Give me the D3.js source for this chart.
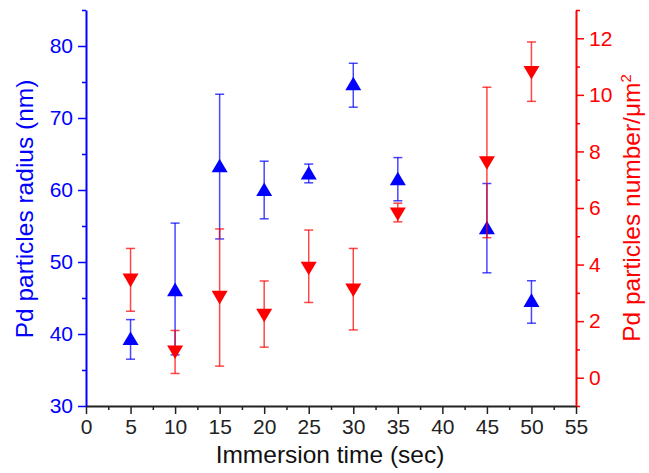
<!DOCTYPE html>
<html><head><meta charset="utf-8">
<script src="https://cdn.jsdelivr.net/npm/d3@7"></script>
<style>body{margin:0;background:#fff}svg{display:block}text{font-family:"Liberation Sans",Arial,sans-serif}</style>
</head><body><svg id="c" width="649" height="473"></svg>
<script>
const times = [5, 10, 15, 20, 25, 30, 35, 45, 50];
const radius = [39.4, 46.2, 63.4, 60.1, 62.4, 74.8, 61.6, 54.8, 44.7];
const radiusHi = [42.0, 55.4, 73.3, 64.0, 63.6, 77.6, 64.5, 60.9, 47.4];
const radiusLo = [36.5, 37.1, 53.2, 56.0, 61.0, 71.5, 58.5, 48.5, 41.5];
const number = [3.44, 0.90, 2.83, 2.20, 3.86, 3.09, 5.78, 7.59, 10.78];
const numberHi = [4.57, 1.67, 5.26, 3.42, 5.22, 4.57, 6.17, 10.27, 11.87];
const numberLo = [2.35, 0.15, 0.41, 1.08, 2.66, 1.69, 5.51, 4.95, 9.77];
const xTicks = [0, 5, 10, 15, 20, 25, 30, 35, 40, 45, 50, 55];
const leftTicks = [30, 40, 50, 60, 70, 80];
const rightTicks = [0, 2, 4, 6, 8, 10, 12];

const BLUE = "#0000ff", RED = "#ff0000";
const svg = d3.select("#c");
const L = 86, R = 576, T = 10, B = 406;
const x = d3.scaleLinear().domain([0, 55]).range([L, R]);
const yL = d3.scaleLinear().domain([30, 85]).range([B, T]);
const yR = d3.scaleLinear().domain([-1, 13]).range([B, T]);

function styleAxis(g, color, fs) {
  g.selectAll("path").attr("stroke", color).attr("stroke-width", 2);
  g.selectAll("line").attr("stroke", color).attr("stroke-width", 1.5);
  g.selectAll("text").attr("fill", color).style("font-size", fs + "px").style("font-family", '"Liberation Sans", Arial, sans-serif');
}
// minor ticks
const xMinor = d3.range(2.5, 55, 5);
svg.append("g").attr("transform", `translate(0,${B})`)
  .call(d3.axisBottom(x).tickValues(xMinor).tickSize(4).tickFormat(""))
  .call(g => { g.select("path").remove(); g.selectAll("line").attr("stroke", "#222").attr("stroke-width", 1.5); });
svg.append("g").attr("transform", `translate(${L},0)`)
  .call(d3.axisLeft(yL).tickValues([35, 45, 55, 65, 75, 85]).tickSize(4).tickFormat(""))
  .call(g => { g.select("path").remove(); g.selectAll("line").attr("stroke", BLUE).attr("stroke-width", 1.5); });
svg.append("g").attr("transform", `translate(${R},0)`)
  .call(d3.axisRight(yR).tickValues([-1, 1, 3, 5, 7, 9, 11, 13]).tickSize(4).tickFormat(""))
  .call(g => { g.select("path").remove(); g.selectAll("line").attr("stroke", RED).attr("stroke-width", 1.5); });

// major axes
svg.append("g").attr("transform", `translate(0,${B})`)
  .call(d3.axisBottom(x).tickValues(xTicks).tickSize(8).tickSizeOuter(0).tickPadding(5))
  .call(g => styleAxis(g, "#222", 21));
svg.append("g").attr("transform", `translate(${L},0)`)
  .call(d3.axisLeft(yL).tickValues(leftTicks).tickSize(8).tickSizeOuter(0).tickPadding(5))
  .call(g => styleAxis(g, BLUE, 21));
svg.append("g").attr("transform", `translate(${R},0)`)
  .call(d3.axisRight(yR).tickValues(rightTicks).tickSize(8).tickSizeOuter(0).tickPadding(5))
  .call(g => styleAxis(g, RED, 21));

// titles
const tf = '"Liberation Sans", Arial, sans-serif';
svg.append("text").attr("x", (L + R) / 2 - 1).attr("y", 463).attr("text-anchor", "middle")
  .style("font-size", "24.5px").style("font-family", tf).attr("fill", "#111").text("Immersion time (sec)");
svg.append("text").attr("transform", "translate(33,209) rotate(-90)").attr("text-anchor", "middle")
  .style("font-size", "24.5px").style("font-family", tf).attr("fill", BLUE).text("Pd particles radius (nm)");
const rt = svg.append("text").attr("transform", "translate(640,208) rotate(-90)").attr("text-anchor", "middle")
  .style("font-size", "24.5px").style("font-family", tf).attr("fill", RED);
rt.append("tspan").text("Pd particles number/μm");
rt.append("tspan").attr("dy", -9).style("font-size", "15px").text("2");

// error bars + markers
function series(vals, hi, lo, y, color, up) {
  const g = svg.append("g");
  times.forEach((t, i) => {
    const cx = x(t);
    const eg = g.append("g").attr("stroke", color).attr("stroke-opacity", 0.72).attr("stroke-width", 1.5);
    eg.append("line").attr("x1", cx).attr("x2", cx).attr("y1", y(hi[i])).attr("y2", y(lo[i]));
    eg.append("line").attr("x1", cx - 4.5).attr("x2", cx + 4.5).attr("y1", y(hi[i])).attr("y2", y(hi[i]));
    eg.append("line").attr("x1", cx - 4.5).attr("x2", cx + 4.5).attr("y1", y(lo[i])).attr("y2", y(lo[i]));
  });
  times.forEach((t, i) => {
    const cx = x(t), cy = y(vals[i]);
    const w = 8, h = 6.8;
    const p = up
      ? `M${cx},${cy - h}L${cx + w},${cy + h}L${cx - w},${cy + h}Z`
      : `M${cx},${cy + h}L${cx + w},${cy - h}L${cx - w},${cy - h}Z`;
    g.append("path").attr("d", p).attr("fill", color);
  });
}
series(radius, radiusHi, radiusLo, yL, BLUE, true);
series(number, numberHi, numberLo, yR, RED, false);
</script></body></html>
